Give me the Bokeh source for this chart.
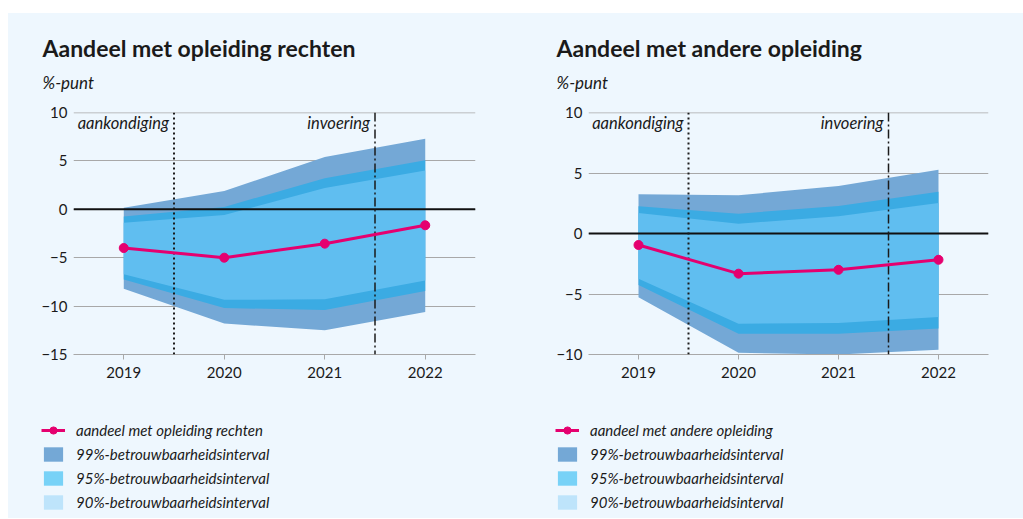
from bokeh.plotting import figure
from bokeh.models import (ColumnDataSource, Span, Label, Legend, LegendItem,
                          FixedTicker, Spacer)
from bokeh.layouts import row, column
from bokeh.embed import file_html
from bokeh.resources import INLINE

# ---------------- data ----------------
years = [2019, 2020, 2021, 2022]
y_ticks_left = [-15, -10, -5, 0, 5, 10]
y_ticks_right = [-10, -5, 0, 5, 10]

rechten_mid = [-4.0, -5.0, -3.55, -1.65]
rechten_hi99 = [0.17, 1.9, 5.4, 7.3]
rechten_hi95 = [-0.75, 0.25, 3.2, 5.07]
rechten_hi90 = [-1.4, -0.6, 2.2, 4.0]
rechten_lo90 = [-6.7, -9.35, -9.3, -7.35]
rechten_lo95 = [-7.25, -10.2, -10.4, -8.45]
rechten_lo99 = [-8.2, -11.8, -12.5, -10.6]

andere_mid = [-0.95, -3.32, -3.0, -2.17]
andere_hi99 = [3.24, 3.16, 3.93, 5.26]
andere_hi95 = [2.25, 1.64, 2.28, 3.46]
andere_hi90 = [1.7, 0.81, 1.42, 2.52]
andere_lo90 = [-3.74, -7.46, -7.4, -6.9]
andere_lo95 = [-4.26, -8.29, -8.29, -7.85]
andere_lo99 = [-5.26, -9.86, -10.0, -9.6]

events = [2019.5, 2021.5]
event_labels = ["aankondiging", "invoering"]
legend_labels = ["99%-betrouwbaarheidsinterval", "95%-betrouwbaarheidsinterval",
                 "90%-betrouwbaarheidsinterval"]

# ---------------- style ----------------
BG = "#EEF7FE"
C99 = "#74A8D6"
C95 = "#3BABE3"
C90 = "#60BEF0"
L95 = "#78D2F7"
L90 = "#BEE4FB"
PINK = "#E5006F"
GRID = "#A8A8A8"
TXT = "#1a1a1a"
FONT = "Lato"

HEAD_H = 89
MAIN_TOP = 10
FRAME_H = 242
MAIN_BOTTOM = 35
LEG_H = 129
NAN = float("nan")


def blank(width, height):
    f = figure(width=width, height=height, x_range=(0, 1), y_range=(0, 1),
               output_backend="svg", toolbar_location=None,
               x_axis_location=None, y_axis_location=None, frame_align=False,
               min_border=0, min_border_left=0, min_border_right=0,
               min_border_top=0, min_border_bottom=0,
               background_fill_color=BG, border_fill_color=BG, outline_line_color=None)
    f.grid.visible = False
    return f


def make_panel(title, line_label, y_range, y_ticks, mid, hi99, hi95, hi90, lo90, lo95, lo99,
               width, left, right, text_x, legend_x):
    # header
    h = blank(width, HEAD_H)
    h.add_layout(Label(x=text_x, y=55, x_units="screen", y_units="screen", text=title,
                       text_font=FONT, text_font_style="bold", text_font_size="23px",
                       text_color=TXT, text_baseline="alphabetic"))
    h.add_layout(Label(x=text_x, y=20, x_units="screen", y_units="screen", text="%-punt",
                       text_font=FONT, text_font_style="italic", text_font_size="17px",
                       text_color=TXT, text_baseline="alphabetic"))

    # main chart
    p = figure(width=width, height=MAIN_TOP + FRAME_H + MAIN_BOTTOM,
               x_range=(2018.5, 2022.5), y_range=y_range,
               output_backend="svg", toolbar_location=None, frame_align=False,
               min_border_left=left, min_border_right=right,
               min_border_top=MAIN_TOP, min_border_bottom=MAIN_BOTTOM,
               background_fill_color=BG, border_fill_color=BG, outline_line_color=None)

    src = ColumnDataSource(dict(x=years, mid=mid, hi99=hi99, hi95=hi95, hi90=hi90,
                                lo90=lo90, lo95=lo95, lo99=lo99))
    p.varea(x="x", y1="lo99", y2="hi99", source=src, fill_color=C99)
    p.varea(x="x", y1="lo95", y2="hi95", source=src, fill_color=C95)
    p.varea(x="x", y1="lo90", y2="hi90", source=src, fill_color=C90)

    # top grid line (sits on the frame edge)
    p.add_layout(Span(location=max(y_ticks), dimension="width", line_color=GRID,
                      line_width=1.5))
    p.add_layout(Span(location=0, dimension="width", line_color="#111111", line_width=2))
    p.add_layout(Span(location=events[0], dimension="height", line_color="#1a1a1a",
                      line_width=2, line_dash="2 3"))
    p.add_layout(Span(location=events[1], dimension="height", line_color="#1a1a1a",
                      line_width=1.5, line_dash="9 3 2 3"))

    rl = p.line(x="x", y="mid", source=src, line_color=PINK, line_width=3)
    rs = p.scatter(x="x", y="mid", source=src, size=9, fill_color=PINK, line_color=PINK)
    rl.level = "overlay"
    rs.level = "overlay"

    for ev, lab in zip(events, event_labels):
        p.add_layout(Label(x=ev, y=y_range[1], text=lab, x_offset=-5, y_offset=-10,
                           text_align="right", text_baseline="middle",
                           text_font=FONT, text_font_style="italic",
                           text_font_size="16.5px", text_color=TXT))

    p.xaxis.ticker = FixedTicker(ticks=years)
    p.xaxis.axis_line_color = GRID
    p.xaxis.major_tick_line_color = GRID
    p.xaxis.major_tick_out = 5
    p.xaxis.major_tick_in = 0
    p.xaxis.minor_tick_line_color = None
    p.xaxis.major_label_standoff = 7
    p.yaxis.ticker = FixedTicker(ticks=y_ticks)
    p.yaxis.axis_line_color = None
    p.yaxis.major_tick_line_color = None
    p.yaxis.minor_tick_line_color = None
    p.yaxis.major_tick_out = 0
    p.yaxis.major_label_standoff = 6
    for ax in (p.xaxis, p.yaxis):
        ax.major_label_text_font = FONT
        ax.major_label_text_font_size = "15px"
        ax.major_label_text_color = TXT
    p.xgrid.visible = False
    p.ygrid.ticker = FixedTicker(ticks=y_ticks)
    p.ygrid.grid_line_color = GRID
    p.ygrid.grid_line_width = 1

    # legend (keys only; the NaN sources draw nothing in the plot)
    g = blank(width, LEG_H)
    nan_src = dict(x=[NAN], y=[NAN])
    el = g.line(x="x", y="y", source=ColumnDataSource(nan_src), line_color=PINK, line_width=3)
    es = g.scatter(x="x", y="y", source=ColumnDataSource(nan_src), size=9,
                   fill_color=PINK, line_color=PINK)
    ea = [g.varea(x="x", y1="y", y2="y", source=ColumnDataSource(nan_src), fill_color=c)
          for c in (C99, L95, L90)]
    legend = Legend(items=[LegendItem(label=line_label, renderers=[el, es])] +
                    [LegendItem(label=lab, renderers=[r]) for lab, r in zip(legend_labels, ea)],
                    location=(legend_x, 7), orientation="vertical",
                    glyph_width=24, glyph_height=18, label_height=18, spacing=6,
                    label_standoff=11, padding=0, margin=0,
                    border_line_color=None, background_fill_alpha=0,
                    label_text_font=FONT, label_text_font_style="italic",
                    label_text_font_size="15px", label_text_color=TXT)
    g.add_layout(legend)
    return column(h, p, g, spacing=0)


c1 = make_panel("Aandeel met opleiding rechten", "aandeel met opleiding rechten",
                (-15, 10), y_ticks_left, rechten_mid, rechten_hi99, rechten_hi95,
                rechten_hi90, rechten_lo90, rechten_lo95, rechten_lo99,
                width=504, left=65, right=37, text_x=34, legend_x=33)
c2 = make_panel("Aandeel met andere opleiding", "aandeel met andere opleiding",
                (-10, 10), y_ticks_right, andere_mid, andere_hi99, andere_hi95,
                andere_hi90, andere_lo90, andere_lo95, andere_lo99,
                width=511, left=76, right=35, text_x=44, legend_x=43)

body = row(c1, c2, spacing=0, styles={"background-color": BG})
layout = column(Spacer(height=13),
                row(Spacer(width=8), body, spacing=0), spacing=0)
open("out.html", "w").write(file_html(layout, INLINE))
